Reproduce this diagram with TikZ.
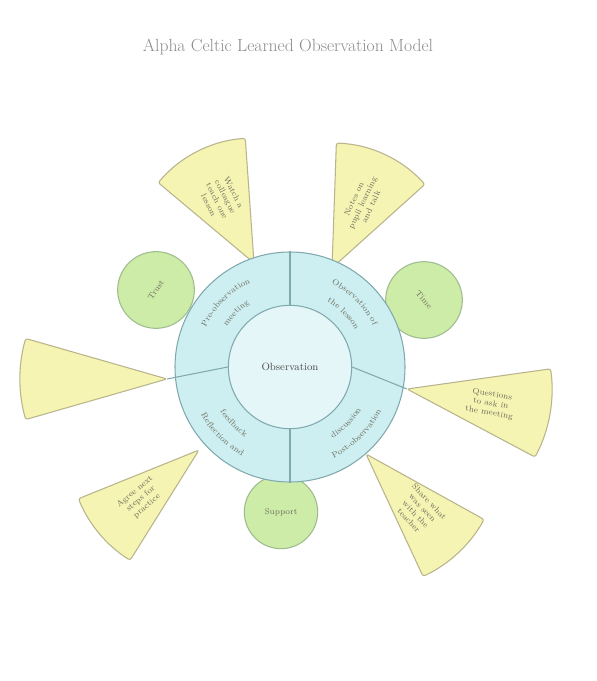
\documentclass[tikz,border=0pt]{standalone}
\usetikzlibrary{calc,decorations.text}

\definecolor{petalyellow}{HTML}{F6F4B2}
\definecolor{petaledge}{HTML}{B8B48C}
\definecolor{leafgreen}{HTML}{CDECA8}
\definecolor{leafedge}{HTML}{9FBC8E}
\definecolor{ringblue}{HTML}{CDEFF1}
\definecolor{ringedge}{HTML}{80A9AE}
\definecolor{pencil}{HTML}{6E6C5E}

% fan: apex, direction, half angle, length
\newcommand{\petal}[4]{%
  \draw[petal] (#1) -- ++({#2-#3}:#4)
    arc[start angle={#2-#3}, end angle={#2+#3}, radius=#4] -- cycle;}

\begin{document}
\begin{tikzpicture}[x=0.03cm, y=-0.03cm, line join=round,
  petal/.style={draw=petaledge, fill=petalyellow, line width=0.9pt, rounded corners=2pt},
  leaf/.style={circle, draw=leafedge, fill=leafgreen, line width=0.9pt, minimum size=2.3cm},
  hand/.style={text=pencil, font=\scriptsize, align=center, inner sep=1pt},
  ringtext/.style={decorate, decoration={text along path, text align=center,
    text color=pencil, text={|\scriptsize|#1}}}]
  \fill[white] (0,0) rectangle (597,681);

  \node[hand, text=black!45, font=\fontsize{15}{18}\selectfont] (title) at (288,47)
    {Alpha Celtic Learned Observation Model};

  % fans round the hub
  \coordinate (tipNW) at (254,263);
  \coordinate (tipNE) at (332,268);
  \coordinate (tipE) at (407,389);
  \coordinate (tipSE) at (366,454);
  \coordinate (tipSW) at (199,450);
  \coordinate (tipW) at (167,379);
  \petal{tipNW}{243}{23}{125}
  \petal{tipNE}{295}{23}{125}
  \petal{tipE}{10}{18}{145}
  \petal{tipSE}{47}{18}{135}
  \petal{tipSW}{140}{18}{130}
  \petal{tipW}{180}{16}{147}

  \node[hand, rotate=-63] (noteNW) at ($(tipNW)+(243:72)$) {Watch a\\ colleague\\ teach one\\ lesson};
  \node[hand, rotate=65] (noteNE) at ($(tipNE)+(295:72)$) {Notes on\\ pupil learning\\ and talk};
  \node[hand, rotate=-10] (noteE) at ($(tipE)+(10:85)$) {Questions\\ to ask in\\ the meeting};
  \node[hand, rotate=-47] (noteSE) at ($(tipSE)+(47:78)$) {Share what\\ was seen\\ with the\\ teacher};
  \node[hand, rotate=40] (noteSW) at ($(tipSW)+(140:76)$) {Agree next\\ steps for\\ practice};

  % green circles
  \node[leaf, hand, rotate=55] (leafNW) at (156,290) {Trust};
  \node[leaf, hand, rotate=-50] (leafNE) at (424,300) {Time};
  \node[leaf, hand, minimum size=2.2cm] (leafS) at (281,512) {Support};

  % hub
  \node[circle, draw=ringedge, fill=ringblue, line width=0.9pt, minimum size=6.9cm] (hub) at (290,367) {};
  \node[circle, draw=ringedge, fill=ringblue!55!white, line width=0.9pt, minimum size=3.7cm,
    text=black!70, font=\small] (core) at (290,367) {Observation};
  \draw[ringedge, line width=0.9pt] (hub.north) -- (core.north);
  \draw[ringedge, line width=0.9pt] (core.south) -- (hub.south);
  \draw[ringedge, line width=0.9pt] (tipW) -- (core.west);
  \draw[ringedge, line width=0.9pt] (core.east) -- (tipE);

  \path[ringtext={Pre-observation}] ($(hub.center)+(186:93)$) arc[start angle=186, end angle=264, radius=93];
  \path[ringtext={meeting}] ($(hub.center)+(190:75)$) arc[start angle=190, end angle=260, radius=75];
  \path[ringtext={Observation of}] ($(hub.center)+(276:93)$) arc[start angle=276, end angle=354, radius=93];
  \path[ringtext={the lesson}] ($(hub.center)+(280:75)$) arc[start angle=280, end angle=350, radius=75];
  \path[ringtext={Reflection and}] ($(hub.center)+(174:101)$) arc[start angle=174, end angle=96, radius=101];
  \path[ringtext={feedback}] ($(hub.center)+(170:83)$) arc[start angle=170, end angle=100, radius=83];
  \path[ringtext={Post-observation}] ($(hub.center)+(84:101)$) arc[start angle=84, end angle=6, radius=101];
  \path[ringtext={discussion}] ($(hub.center)+(80:83)$) arc[start angle=80, end angle=10, radius=83];
\end{tikzpicture}
\end{document}
